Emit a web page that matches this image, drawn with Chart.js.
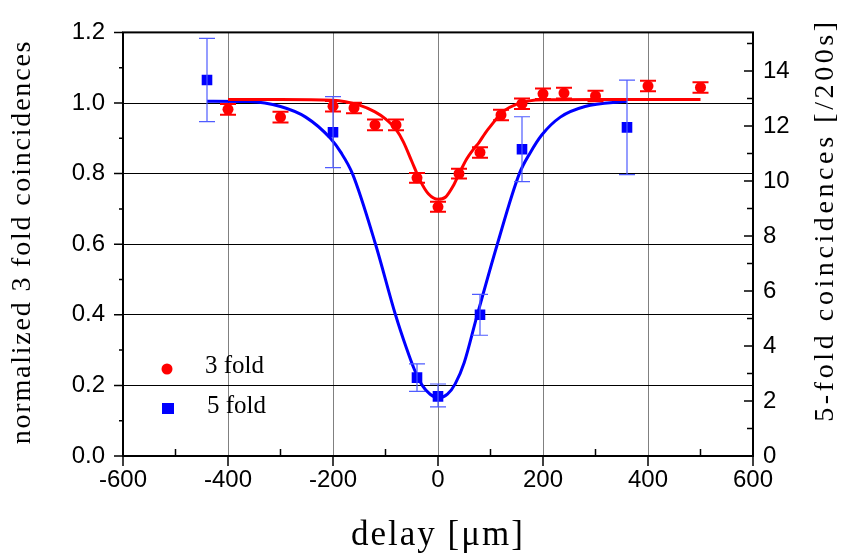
<!DOCTYPE html>
<html>
<head>
<meta charset="utf-8">
<script src="https://cdn.jsdelivr.net/npm/chart.js@4.4.1/dist/chart.umd.min.js"></script>
<style>
  html, body { margin: 0; padding: 0; background: #fff; }
</style>
</head>
<body>
<canvas id="chart" width="844" height="555"></canvas>
<script>
// 3 fold coincidences (normalized)
const delay3 = [-400, -300, -200, -160, -120, -80, -40, 0, 40, 80, 120, 160, 200, 240, 300, 400, 500];
const norm3 = [0.982, 0.960, 0.991, 0.986, 0.938, 0.938, 0.788, 0.706, 0.800, 0.860, 0.966, 0.998, 1.026, 1.028, 1.020, 1.048, 1.044];
const err3 = [0.015, 0.015, 0.015, 0.015, 0.015, 0.015, 0.014, 0.014, 0.014, 0.015, 0.015, 0.015, 0.015, 0.015, 0.015, 0.015, 0.015];

// 5 fold coincidences (normalized to left axis)
const delay5 = [-440, -200, -40, 0, 80, 160, 360];
const norm5 = [1.065, 0.917, 0.222, 0.169, 0.400, 0.869, 0.931];
const err5Hi = [1.183, 1.018, 0.261, 0.204, 0.458, 0.961, 1.065];
const err5Lo = [0.947, 0.817, 0.183, 0.139, 0.342, 0.777, 0.797];

// fitted curves
const fit3X = [-400, -300, -200, -150, -120, -100, -80, -66, -50, -34, -18, 0, 14, 30, 42, 54, 66, 78, 90, 102, 114, 126, 150, 174, 200, 300, 400, 500];
const fit3Y = [1.01, 1.01, 1.008, 0.994, 0.975, 0.955, 0.925, 0.89, 0.835, 0.78, 0.742, 0.727, 0.733, 0.768, 0.805, 0.84, 0.866, 0.888, 0.915, 0.938, 0.96, 0.978, 0.997, 1.006, 1.009, 1.01, 1.01, 1.01];
const fit5X = [-440, -360, -300, -252, -205, -185, -163, -119, -81, -60, -45, -30, -15, 2, 18, 33, 50, 73, 113, 155, 176, 198, 233, 280, 360];
const fit5Y = [1.005, 1.004, 0.99, 0.96, 0.90, 0.86, 0.80, 0.60, 0.40, 0.305, 0.245, 0.20, 0.175, 0.165, 0.175, 0.205, 0.265, 0.39, 0.60, 0.80, 0.86, 0.91, 0.96, 0.99, 1.005];

const legendLabels = ['3 fold', '5 fold'];
const xTitle = 'delay [\u03bcm]';
const yTitle = 'normalized 3 fold coincidences';
const y2Title = '5-fold coincidences [/200s]';

const RED = '#ff0000';
const BLUE = '#0000ff';
const toXY = (xs, ys) => xs.map((v, i) => ({ x: v, y: ys[i] }));

// error bars
const errorBars = {
  id: 'errorBars',
  afterDatasetsDraw(chart) {
    const { ctx, scales: { x, y } } = chart;
    ctx.save();
    ctx.strokeStyle = RED;
    ctx.lineWidth = 2;
    delay3.forEach((d, i) => {
      const px = x.getPixelForValue(d);
      const top = y.getPixelForValue(norm3[i] + err3[i]);
      const bot = y.getPixelForValue(norm3[i] - err3[i]);
      ctx.beginPath();
      ctx.moveTo(px, top); ctx.lineTo(px, bot);
      ctx.moveTo(px - 8, top); ctx.lineTo(px + 8, top);
      ctx.moveTo(px - 8, bot); ctx.lineTo(px + 8, bot);
      ctx.stroke();
    });
    ctx.strokeStyle = '#4f5cff';
    ctx.lineWidth = 1.2;
    delay5.forEach((d, i) => {
      const px = x.getPixelForValue(d);
      const top = y.getPixelForValue(err5Hi[i]);
      const bot = y.getPixelForValue(err5Lo[i]);
      ctx.beginPath();
      ctx.moveTo(px, top); ctx.lineTo(px, bot);
      ctx.moveTo(px - 8, top); ctx.lineTo(px + 8, top);
      ctx.moveTo(px - 8, bot); ctx.lineTo(px + 8, bot);
      ctx.stroke();
    });
    ctx.restore();
  }
};

// frame, major and minor ticks
const frameTicks = {
  id: 'frameTicks',
  afterDraw(chart) {
    const { ctx, chartArea: a, scales: { x, y, y2 } } = chart;
    ctx.save();
    ctx.strokeStyle = '#000';
    ctx.lineWidth = 2;
    ctx.strokeRect(a.left, a.top, a.right - a.left, a.bottom - a.top);
    ctx.lineWidth = 1.5;
    ctx.beginPath();
    for (let v = -600; v <= 600; v += 100) {
      const px = x.getPixelForValue(v);
      if (v % 200 === 0) { ctx.moveTo(px, a.bottom); ctx.lineTo(px, a.bottom + 10); }
      else { ctx.moveTo(px, a.bottom); ctx.lineTo(px, a.bottom - 7); }
    }
    for (let k = 0; k <= 12; k++) {
      const py = y.getPixelForValue(k / 10);
      ctx.moveTo(a.left, py); ctx.lineTo(a.left - (k % 2 === 0 ? 9 : 4), py);
    }
    for (let k = 0; k <= 15; k++) {
      const py = y2.getPixelForValue(k);
      ctx.moveTo(a.right, py); ctx.lineTo(a.right - (k % 2 === 0 ? 9 : 6), py);
    }
    ctx.stroke();
    ctx.restore();
  }
};

// axis titles and in-plot legend
const titlesLegend = {
  id: 'titlesLegend',
  afterDraw(chart) {
    const { ctx } = chart;
    ctx.save();
    ctx.fillStyle = '#000';
    ctx.textAlign = 'center';
    ctx.textBaseline = 'middle';
    ctx.font = '28px "Liberation Serif", "Times New Roman", serif';
    ctx.letterSpacing = '1.8px';
    ctx.save();
    ctx.translate(23, 242);
    ctx.rotate(-Math.PI / 2);
    ctx.fillText(yTitle, 0, 0);
    ctx.restore();
    ctx.letterSpacing = '3.6px';
    ctx.save();
    ctx.translate(826, 220);
    ctx.rotate(-Math.PI / 2);
    ctx.fillText(y2Title, 0, 0);
    ctx.restore();
    ctx.font = '35px "Liberation Serif", "Times New Roman", serif';
    ctx.letterSpacing = '2px';
    ctx.fillText(xTitle, 438, 536);

    // legend
    ctx.letterSpacing = '0px';
    ctx.textAlign = 'left';
    ctx.textBaseline = 'alphabetic';
    ctx.font = '25px "Liberation Serif", "Times New Roman", serif';
    ctx.fillText(legendLabels[0], 205, 373);
    ctx.fillText(legendLabels[1], 207, 413);
    ctx.fillStyle = RED;
    ctx.beginPath();
    ctx.arc(167, 369, 5.5, 0, Math.PI * 2);
    ctx.fill();
    ctx.fillStyle = BLUE;
    ctx.fillRect(162, 403, 12, 11);
    ctx.restore();
  }
};

const tickFont = { family: '"Liberation Sans", Arial, sans-serif', size: 24 };

new Chart(document.getElementById('chart'), {
  type: 'scatter',
  data: {
    datasets: [
      {
        label: legendLabels[0],
        data: toXY(delay3, norm3),
        pointStyle: 'circle',
        pointRadius: 5.5,
        backgroundColor: RED,
        borderColor: RED,
        borderWidth: 0
      },
      {
        label: legendLabels[1],
        data: toXY(delay5, norm5),
        pointStyle: 'rect',
        pointRadius: 7.5,
        backgroundColor: BLUE,
        borderColor: BLUE,
        borderWidth: 0
      },
      {
        label: 'fit 3',
        data: toXY(fit3X, fit3Y),
        showLine: true,
        pointRadius: 0,
        borderColor: RED,
        borderWidth: 3,
        cubicInterpolationMode: 'monotone'
      },
      {
        label: 'fit 5',
        data: toXY(fit5X, fit5Y),
        showLine: true,
        pointRadius: 0,
        borderColor: BLUE,
        borderWidth: 3,
        cubicInterpolationMode: 'monotone'
      }
    ]
  },
  options: {
    responsive: false,
    animation: false,
    layout: { padding: { top: 20, left: 0, right: 0, bottom: 0 } },
    plugins: {
      legend: { display: false },
      tooltip: { enabled: false }
    },
    scales: {
      x: {
        type: 'linear',
        min: -600,
        max: 600,
        ticks: { stepSize: 200, font: tickFont, color: '#000', padding: 10, maxRotation: 0 },
        grid: { color: '#808080', lineWidth: 1, drawTicks: false },
        border: { display: false },
        afterFit: s => { s.height = 99; }
      },
      y: {
        position: 'left',
        min: 0,
        max: 1.2,
        ticks: { stepSize: 0.2, font: tickFont, color: '#000', padding: 18, callback: v => v.toFixed(1) },
        grid: { color: '#000', lineWidth: 1, drawTicks: false },
        border: { display: false },
        afterFit: s => { s.width = 123; }
      },
      y2: {
        position: 'right',
        min: 0,
        max: 15.4,
        ticks: { stepSize: 2, includeBounds: false, font: tickFont, color: '#000', padding: 10 },
        grid: { display: false, drawTicks: false },
        border: { display: false },
        afterFit: s => { s.width = 91; }
      }
    }
  },
  plugins: [errorBars, frameTicks, titlesLegend]
});
</script>
</body>
</html>
